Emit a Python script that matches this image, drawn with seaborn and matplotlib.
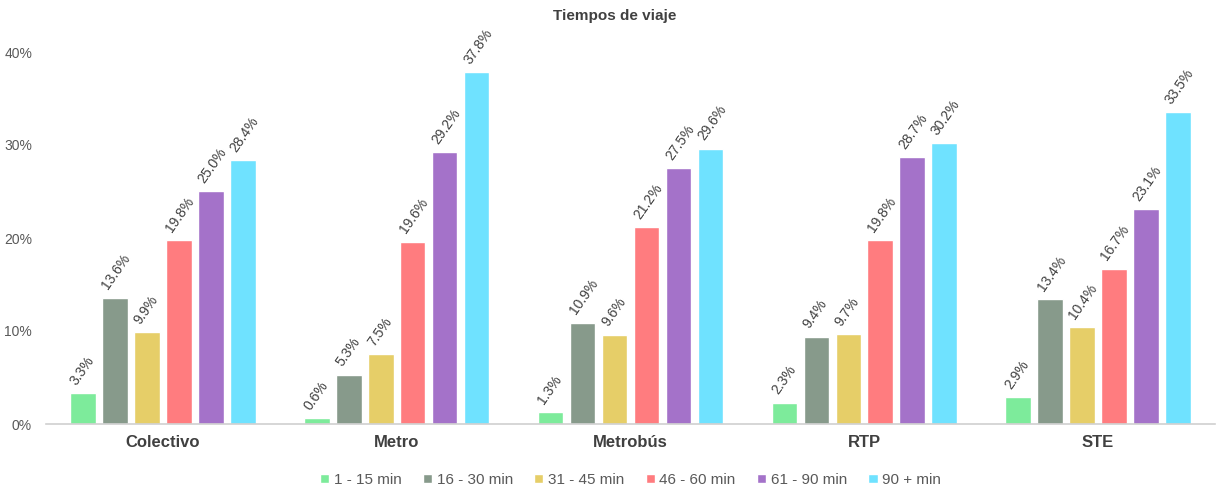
import matplotlib
matplotlib.use("Agg")
import matplotlib.pyplot as plt
import seaborn as sns
import pandas as pd

modes = ["Colectivo", "Metro", "Metrobús", "RTP", "STE"]
ranges = ["1 - 15 min", "16 - 30 min", "31 - 45 min", "46 - 60 min", "61 - 90 min", "90 + min"]
share_1_15 = [3.3, 0.6, 1.3, 2.3, 2.9]
share_16_30 = [13.6, 5.3, 10.9, 9.4, 13.4]
share_31_45 = [9.9, 7.5, 9.6, 9.7, 10.4]
share_46_60 = [19.8, 19.6, 21.2, 19.8, 16.7]
share_61_90 = [25.0, 29.2, 27.5, 28.7, 23.1]
share_90_plus = [28.4, 37.8, 29.6, 30.2, 33.5]
colors = ["#7DEB9B", "#879A8B", "#E6CE68", "#FF7C7F", "#A472C9", "#6FE2FF"]

series = [share_1_15, share_16_30, share_31_45, share_46_60, share_61_90, share_90_plus]
rows = []
for rng, vals in zip(ranges, series):
    for m, v in zip(modes, vals):
        rows.append({"modo": m, "rango": rng, "pct": v})
df = pd.DataFrame(rows)

sns.set_theme(style="white")
plt.rcParams["font.family"] = ["Liberation Sans", "DejaVu Sans"]

fig = plt.figure(figsize=(12.3, 4.91), dpi=100)
ax = fig.add_axes([46 / 1230, 1 - 424 / 491, (1215 - 46) / 1230, (424 - 52) / 491])

sns.barplot(data=df, x="modo", y="pct", hue="rango", order=modes, hue_order=ranges,
            palette=colors, width=0.82, gap=0.2, ax=ax, saturation=1, errorbar=None)

for cont in ax.containers:
    for bar in cont:
        h = bar.get_height()
        ax.annotate(f"{h:.1f}%", (bar.get_x() + bar.get_width() / 2, h),
                    xytext=(-3, 4), textcoords="offset points", rotation=55,
                    ha="left", va="bottom", rotation_mode="anchor",
                    fontsize=10, color="#404040", annotation_clip=False)

ax.set_ylim(0, 40)
ax.set_yticks([0, 10, 20, 30, 40])
ax.set_yticklabels([f"{t}%" for t in [0, 10, 20, 30, 40]], color="#595959", fontsize=10)
ax.tick_params(axis="y", length=0, pad=10)
ax.tick_params(axis="x", length=0, pad=8)
for lbl in ax.get_xticklabels():
    lbl.set_fontweight("bold")
    lbl.set_fontsize(12)
    lbl.set_color("#404040")
ax.set_xlabel("")
ax.set_ylabel("")
for side in ["top", "right", "left"]:
    ax.spines[side].set_visible(False)
ax.spines["bottom"].set_color("#D0D0D0")
ax.spines["bottom"].set_linewidth(1.2)

fig.text(0.5, 1 - 16 / 491, "Tiempos de viaje", ha="center", va="center",
         fontsize=11, fontweight="bold", color="#404040")

ax.legend(loc="center", bbox_to_anchor=(0.5, -0.15), ncol=6, frameon=False,
          fontsize=11, handlelength=0.6, handleheight=0.6, handletextpad=0.3,
          columnspacing=1.4, labelcolor="#595959")

fig.savefig("out.png", dpi=100, facecolor="white")
